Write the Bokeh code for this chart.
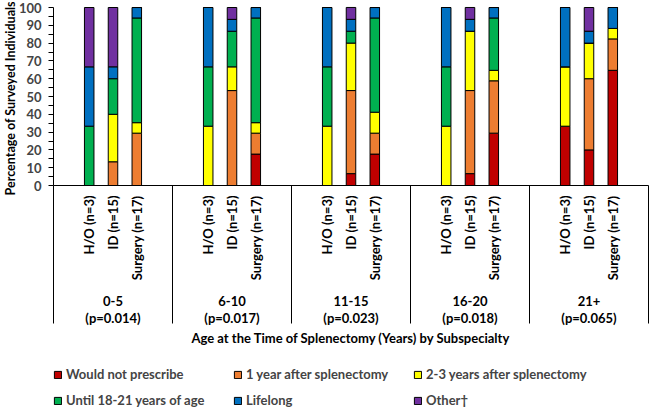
import math
from bokeh.plotting import figure
from bokeh.models import (ColumnDataSource, Range1d, FixedTicker, Legend, LegendItem)
from bokeh.core.properties import value
from bokeh.embed import file_html
from bokeh.resources import INLINE

# ---------------- data ----------------
groups = ["0-5", "6-10", "11-15", "16-20", "21+"]
pvalues = ["(p=0.014)", "(p=0.017)", "(p=0.023)", "(p=0.018)", "(p=0.065)"]
specialties = ["H/O (n=3)", "ID (n=15)", "Surgery (n=17)"]

series_names = ["Would not prescribe", "1 year after splenectomy",
                "2-3 years after splenectomy", "Until 18-21 years of age",
                "Lifelong", "Other\u2020"]
series_colors = ["#C00000", "#ED7D31", "#FFFF00", "#00B050", "#0070C0", "#7030A0"]

# order: for each age group -> H/O, ID, Surgery
would_not = [0, 0, 0,      0, 0, 17.65,      0, 6.67, 17.65,    0, 6.67, 29.41,   33.33, 20, 64.71]
one_year = [0, 13.33, 29.41, 0, 53.33, 11.76, 0, 46.67, 11.76,   0, 46.67, 29.41,  0, 40, 17.65]
two_three = [0, 26.67, 5.88, 33.33, 13.33, 5.88, 33.33, 26.67, 11.76, 33.33, 33.33, 5.88, 33.33, 20, 5.88]
until_18 = [33.33, 20, 58.82, 33.33, 20, 58.82, 33.33, 6.67, 52.94, 33.33, 0, 29.41, 0, 0, 0]
lifelong = [33.33, 6.67, 5.88, 33.34, 6.67, 5.88, 33.34, 6.67, 5.88, 33.34, 6.67, 5.88, 33.34, 6.67, 11.76]
other = [33.34, 33.33, 0,  0, 6.67, 0,    0, 6.67, 0,    0, 6.67, 0,    0, 13.33, 0]

y_ticks = [0, 10, 20, 30, 40, 50, 60, 70, 80, 90, 100]
y_minor = [5, 15, 25, 35, 45, 55, 65, 75, 85, 95]

x_title = "Age at the Time of Splenectomy (Years) by Subspecialty"
y_title = "Percentage of Surveyed Individuals"

# ---------------- layout constants (pixels) ----------------
GROUP_SPAN = 5
PLOT_LEFT, PLOT_RIGHT, PLOT_TOP, PLOT_BOTTOM = 53, 648, 7, 185
CANVAS_W, CANVAS_H = 650, 411
n_units = GROUP_SPAN * len(groups)
px_x = (PLOT_RIGHT - PLOT_LEFT) / n_units
px_y = (PLOT_BOTTOM - PLOT_TOP) / 100.0

def below(px):
    """data y for a point `px` pixels below the zero line"""
    return -px / px_y

def left_of(px):
    """data x for a point `px` pixels left of the value axis"""
    return -px / px_x

xs, spec_labels = [], []
for gi, g in enumerate(groups):
    for si, s in enumerate(specialties):
        xs.append(gi * GROUP_SPAN + 1.5 + si)
        spec_labels.append(s)

keys = ["would_not", "one_year", "two_three", "until_18", "lifelong", "other"]
src = ColumnDataSource(dict(x=xs, would_not=would_not, one_year=one_year,
                            two_three=two_three, until_18=until_18,
                            lifelong=lifelong, other=other))

FONT = "Lato"
FS = "13px"
sep_x = [i * GROUP_SPAN for i in range(len(groups) + 1)]

p = figure(width=CANVAS_W, height=CANVAS_H, output_backend="svg",
           toolbar_location=None,
           x_range=Range1d(left_of(PLOT_LEFT), n_units + (CANVAS_W - PLOT_RIGHT) / px_x),
           y_range=Range1d(below(CANVAS_H - PLOT_BOTTOM), 100 + PLOT_TOP / px_y),
           min_border=0, x_axis_location=None)
p.outline_line_color = None
p.grid.grid_line_color = None
p.background_fill_color = "white"

renderers = p.vbar_stack(keys, x="x", width=0.4, source=src,
                         color=series_colors, line_color="black", line_width=1)

# value axis, fixed at x = 0, limited to 0..100
ya = p.yaxis[0]
ya.fixed_location = 0
ya.bounds = (0, 100)
ya.ticker = FixedTicker(ticks=y_ticks, minor_ticks=y_minor)
ya.major_tick_out = 5
ya.major_tick_in = 0
ya.minor_tick_out = 5
ya.minor_tick_in = 0
ya.major_label_standoff = 7
ya.major_label_text_font = FONT
ya.major_label_text_font_style = "bold"
ya.major_label_text_font_size = FS
ya.axis_line_color = "black"

# value-axis title
p.text(x=[left_of(PLOT_LEFT - 10)], y=[49], text=[y_title], angle=math.pi / 2,
       text_align="center", text_baseline="middle", text_font=value(FONT),
       text_font_style="bold", text_font_size="12.5px", text_color="black")

# category axis line and group separators
p.segment(x0=[0], y0=[0], x1=[n_units], y1=[0], line_color="black", line_width=1)
p.segment(x0=sep_x, y0=[0] * len(sep_x), x1=sep_x, y1=[below(138)] * len(sep_x),
          line_color="black", line_width=1)

# specialty labels (rotated)
p.text(x=xs, y=[below(10)] * len(xs), text=spec_labels, angle=math.pi / 2,
       text_align="right", text_baseline="middle", text_font=value(FONT),
       text_font_style="bold", text_font_size=FS, text_color="black")

# age group labels and p-values
gx = [gi * GROUP_SPAN + GROUP_SPAN / 2 for gi in range(len(groups))]
p.text(x=gx, y=[below(115)] * len(gx), text=groups, text_align="center",
       text_baseline="middle", text_font=value(FONT), text_font_style="bold",
       text_font_size=FS, text_color="black")
p.text(x=gx, y=[below(132)] * len(gx), text=pvalues, text_align="center",
       text_baseline="middle", text_font=value(FONT), text_font_style="bold",
       text_font_size=FS, text_color="black")

# category axis title
p.text(x=[n_units / 2], y=[below(152)], text=[x_title], text_align="center",
       text_baseline="middle", text_font=value(FONT), text_font_style="bold",
       text_font_size=FS, text_color="black")

legend = Legend(items=[LegendItem(label=n, renderers=[r]) for n, r in zip(series_names, renderers)],
                orientation="horizontal", ncols=3)
legend.location = (PLOT_LEFT, 3)
legend.margin = 0
legend.padding = 4
legend.spacing = 10
legend.glyph_width = 9
legend.glyph_height = 9
legend.label_standoff = 4
legend.label_width = 157
legend.label_height = 15
legend.label_text_font = FONT
legend.label_text_font_style = "bold"
legend.label_text_font_size = FS
legend.border_line_color = None
legend.background_fill_alpha = 0
p.add_layout(legend, "center")

open("out.html", "w").write(file_html(p, INLINE))
